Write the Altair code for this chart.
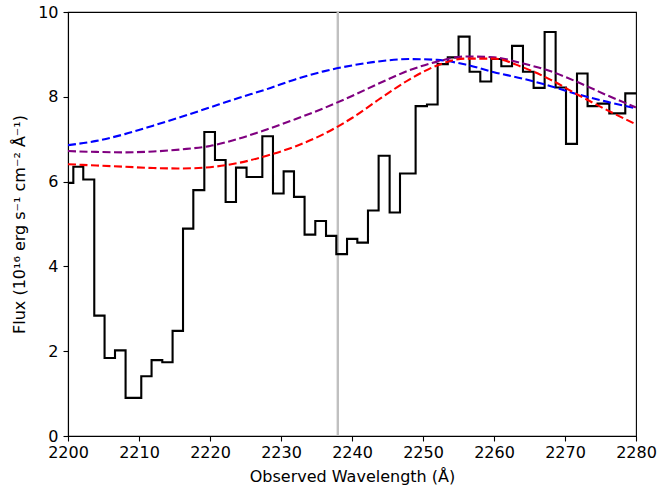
import altair as alt
import pandas as pd

# Binned spectrum: bin edges (Å) and flux per bin (1e-16 erg/s/cm^2/Å)
bin_edges = [
    2200.00, 2200.75, 2202.15, 2203.70, 2205.15, 2206.62, 2208.11, 2210.32,
    2211.77, 2213.28, 2214.73, 2216.20, 2217.65, 2219.20, 2220.70, 2222.20,
    2223.66, 2225.15, 2227.37, 2228.87, 2230.37, 2231.83, 2233.32, 2234.83,
    2236.34, 2237.79, 2239.30, 2240.75, 2242.25, 2243.75, 2245.30, 2246.76,
    2248.96, 2250.56, 2252.06, 2253.49, 2255.01, 2256.56, 2258.07, 2259.61,
    2261.03, 2262.54, 2264.08, 2265.58, 2267.13, 2268.68, 2270.14, 2271.69,
    2273.18, 2274.59, 2276.24, 2278.49, 2280.00,
]
bin_flux = [
    5.97, 6.35, 6.05, 2.84, 1.84, 2.02, 0.90, 1.41, 1.79, 1.74,
    2.48, 4.89, 5.80, 7.17, 6.51, 5.52, 6.33, 6.11, 7.07, 5.72,
    6.24, 5.64, 4.75, 5.07, 4.72, 4.29, 4.65, 4.56, 5.32, 6.61,
    5.27, 6.19, 7.78, 7.82, 8.77, 8.93, 9.42, 8.59, 8.36, 8.89,
    8.72, 9.20, 8.59, 8.21, 9.53, 8.22, 6.89, 8.55, 7.78, 7.84,
    7.61, 8.08,
]

# Model continua sampled on a common wavelength grid
model_wave = [2200, 2204, 2208, 2212, 2216, 2220, 2224, 2228, 2232, 2236, 2240,
              2244, 2248, 2252, 2256, 2260, 2264, 2268, 2272, 2276, 2280]
model_blue = [6.86, 6.96, 7.12, 7.32, 7.53, 7.75, 7.97, 8.18, 8.41, 8.60, 8.74,
              8.84, 8.89, 8.87, 8.76, 8.58, 8.43, 8.25, 8.05, 7.88, 7.73]
model_purple = [6.72, 6.70, 6.69, 6.71, 6.76, 6.84, 7.01, 7.23, 7.47, 7.73, 8.02,
                8.33, 8.62, 8.83, 8.95, 8.93, 8.79, 8.60, 8.33, 8.03, 7.75]
model_red = [6.41, 6.38, 6.35, 6.32, 6.31, 6.34, 6.44, 6.61, 6.83, 7.12, 7.50,
             7.96, 8.40, 8.74, 8.90, 8.90, 8.70, 8.40, 8.03, 7.68, 7.35]

marker_wave = [2238.0]

FONT = "DejaVu Sans"

step_df = pd.DataFrame({
    "wave": bin_edges,
    "flux": bin_flux + [bin_flux[-1]],
})

models = []
for name, vals in (("blue", model_blue), ("purple", model_purple), ("red", model_red)):
    for w, f in zip(model_wave, vals):
        models.append({"wave": w, "flux": f, "model": name})
model_df = pd.DataFrame(models)

marker_df = pd.DataFrame({"wave": marker_wave})

x_scale = alt.Scale(domain=[2200, 2280], nice=False, zero=False)
y_scale = alt.Scale(domain=[0, 10], nice=False)

x_enc = alt.X(
    "wave:Q", scale=x_scale,
    axis=alt.Axis(title="Observed Wavelength (Å)", values=list(range(2200, 2281, 10)),
                  format="d", labelPadding=3, titlePadding=8,
                  labelFlush=False, labelOverlap=False, labelBound=False),
)
y_enc = alt.Y(
    "flux:Q", scale=y_scale,
    axis=alt.Axis(title="Flux (10¹⁶ erg s⁻¹ cm⁻² Å⁻¹)", values=list(range(0, 11, 2)),
                  labelPadding=5, titlePadding=10,
                  labelFlush=False, labelOverlap=False, labelBound=False),
)

marker = alt.Chart(marker_df).mark_rule(color="#c0c0c0", strokeWidth=2.4).encode(
    x=alt.X("wave:Q", scale=x_scale)
)

spectrum = alt.Chart(step_df).mark_line(
    interpolate="step-after", color="black", strokeWidth=2.1, clip=True
).encode(x=x_enc, y=y_enc)

continua = alt.Chart(model_df).mark_line(
    interpolate="monotone", strokeWidth=2.1, strokeDash=[8, 3.5], clip=True
).encode(
    x=alt.X("wave:Q", scale=x_scale),
    y=alt.Y("flux:Q", scale=y_scale),
    color=alt.Color("model:N",
                    scale=alt.Scale(domain=["blue", "purple", "red"],
                                    range=["#0000ff", "#800080", "#ff0000"]),
                    legend=None),
    detail="model:N",
)

chart = alt.layer(marker, spectrum, continua).properties(
    width=568,
    height=424,
    autosize=alt.AutoSizeParams(type="none"),
    padding={"left": 68, "top": 12, "right": 22, "bottom": 56},
    background="white",
).configure_view(
    stroke="black", strokeWidth=1.1
).configure_axis(
    grid=False,
    domainColor="black",
    domainWidth=1.1,
    tickColor="black",
    tickWidth=1.1,
    tickSize=5,
    labelFont=FONT,
    labelFontSize=16,
    labelColor="black",
    titleFont=FONT,
    titleFontSize=16,
    titleFontWeight="normal",
    titleColor="black",
)

chart.save("out.html", embed_options={"renderer": "svg", "actions": False})
